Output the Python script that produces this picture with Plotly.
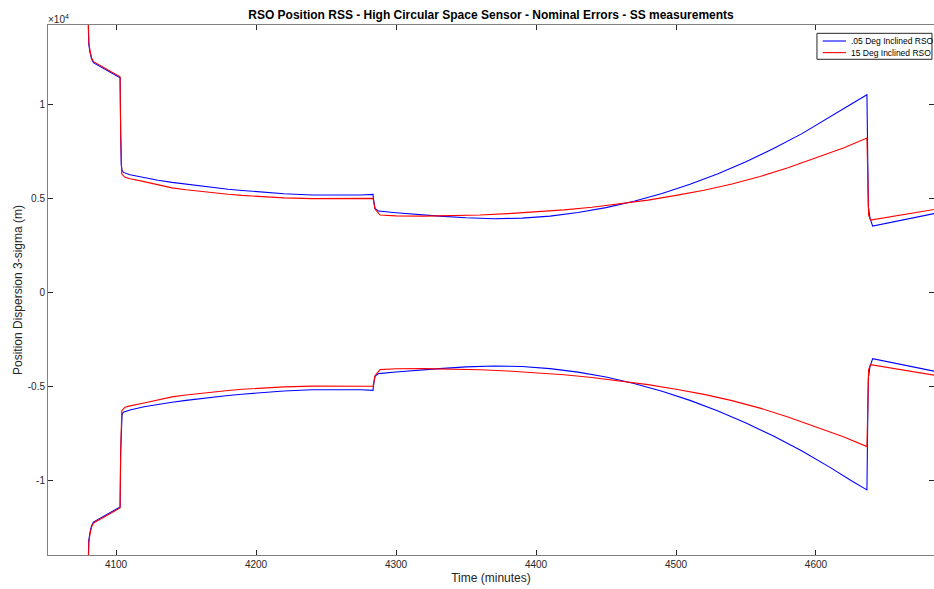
import plotly.graph_objects as go

# ---------------- data ----------------
t_blue = [4079.6, 4079.9, 4080.3, 4080.5, 4081.4, 4082.5, 4083.8, 4102.9, 4103.3, 4103.7,
          4104.3, 4105.2, 4110, 4120, 4130, 4140, 4150, 4160, 4170, 4180, 4190, 4200,
          4220, 4240, 4260, 4275, 4283.6,
          4283.8, 4285.0, 4287.4, 4300, 4315, 4331, 4350, 4370, 4390, 4410, 4430, 4450,
          4470, 4490, 4510, 4530, 4550, 4570, 4590, 4610, 4625,
          4636.4, 4637.0, 4637.4, 4638.6, 4640.5, 4684.3, 4690]
blue_upper = [16000, 14200, 13650, 13200, 12750, 12400, 12200, 11400, 8500, 6750,
              6500, 6370, 6250, 6080, 5950, 5840, 5740, 5640, 5560, 5480, 5410, 5350,
              5240, 5170, 5150, 5170, 5204,
              5000, 4460, 4317, 4230, 4130, 4050, 3960, 3910, 3940, 4050, 4237, 4500,
              4837, 5249, 5737, 6299, 6936, 7648, 8430, 9297, 9993,
              10493, 6500, 4545, 3930, 3521, 4184, 4270]
blue_lower = [-16000, -14200, -13650, -13200, -12750, -12400, -12200, -11400, -8500, -6750,
              -6500, -6370, -6250, -6080, -5950, -5840, -5740, -5640, -5560, -5480, -5410, -5350,
              -5240, -5170, -5150, -5170, -5204,
              -5000, -4460, -4317, -4230, -4130, -4050, -3960, -3910, -3940, -4050, -4237, -4500,
              -4837, -5249, -5737, -6299, -6936, -7648, -8430, -9297, -9993,
              -10493, -6500, -4545, -3930, -3521, -4184, -4270]

t_red = [4079.7, 4080.0, 4080.4, 4080.6, 4081.5, 4082.6, 4083.9, 4102.9, 4103.3, 4103.7,
         4104.1, 4106.4, 4110, 4120, 4130, 4140, 4150, 4160, 4170, 4180, 4190, 4200,
         4220, 4240, 4260, 4275, 4283.6,
         4283.8, 4285.0, 4288.6, 4300, 4320, 4340, 4360, 4380, 4400, 4420, 4440, 4460,
         4480, 4500, 4520, 4540, 4560, 4580, 4600, 4620,
         4636.4, 4637.0, 4637.6, 4639.0, 4684.3, 4690]
red_upper = [16000, 14200, 13700, 13250, 12800, 12450, 12250, 11450, 8500, 6700,
             6282, 6107, 6030, 5880, 5700, 5550, 5450, 5360, 5280, 5210, 5150, 5100,
             5020, 4980, 4970, 4980, 4991,
             4900, 4423, 4105, 4060, 4050, 4070, 4110, 4180, 4270, 4380, 4520, 4690,
             4900, 5150, 5420, 5750, 6150, 6620, 7150, 7680,
             8193, 5800, 4105, 3839, 4397, 4470]
red_lower = [-16000, -14200, -13700, -13250, -12800, -12450, -12250, -11450, -8500, -6700,
             -6282, -6107, -6030, -5880, -5700, -5550, -5450, -5360, -5280, -5210, -5150, -5100,
             -5020, -4980, -4970, -4980, -4991,
             -4900, -4423, -4105, -4060, -4050, -4070, -4110, -4180, -4270, -4380, -4520, -4690,
             -4900, -5150, -5420, -5750, -6150, -6620, -7150, -7680,
             -8193, -5800, -4105, -3839, -4397, -4470]

series_names = [".05 Deg Inclined RSO", "15 Deg Inclined RSO"]
series_colors = ["#0000ff", "#ff0000"]
x_ticks = [4100, 4200, 4300, 4400, 4500, 4600]
y_ticks = [-10000, -5000, 0, 5000, 10000]
y_tick_labels = ["-1", "-0.5", "0", "0.5", "1"]

FONT = "Liberation Sans, Arial, Helvetica, sans-serif"
TXT = "#262626"

fig = go.Figure()
fig.add_trace(go.Scatter(x=t_blue, y=blue_upper, mode="lines", name=series_names[0],
                         line=dict(color=series_colors[0], width=1.1), showlegend=False))
fig.add_trace(go.Scatter(x=t_red, y=red_upper, mode="lines", name=series_names[1],
                         line=dict(color=series_colors[1], width=1.1), showlegend=False))
fig.add_trace(go.Scatter(x=t_blue, y=blue_lower, mode="lines", name=series_names[0],
                         line=dict(color=series_colors[0], width=1.1), showlegend=False))
fig.add_trace(go.Scatter(x=t_red, y=red_lower, mode="lines", name=series_names[1],
                         line=dict(color=series_colors[1], width=1.1), showlegend=False))

W, H = 934, 589
fig.update_layout(
    width=W, height=H,
    paper_bgcolor="white", plot_bgcolor="white",
    margin=dict(l=48, r=0, t=25, b=34),
    font=dict(family=FONT, size=10, color=TXT),
    title=dict(text="<b>RSO Position RSS - High Circular Space Sensor - Nominal Errors - SS measurements</b>",
               x=0.5, xref="paper", xanchor="center", y=1 - 15 / H, yref="container", yanchor="middle",
               font=dict(size=12, color="#000000")),
    showlegend=False,
    xaxis=dict(range=[4051.4, 4684.3], tickvals=x_ticks,
               ticks="inside", ticklen=5, tickcolor=TXT, tickwidth=1,
               showline=True, linecolor="#808080", linewidth=1, mirror="ticks",
               showgrid=False, zeroline=False,
               title=dict(text="Time (minutes)", font=dict(size=12, color=TXT), standoff=4),
               tickfont=dict(size=10, color=TXT)),
    yaxis=dict(range=[-13950, 14200], tickvals=y_ticks, ticktext=y_tick_labels,
               ticks="inside", ticklen=5, tickcolor=TXT, tickwidth=1,
               showline=True, linecolor="#808080", linewidth=1, mirror="ticks",
               showgrid=False, zeroline=False,
               title=dict(text="Position Dispersion 3-sigma (m)", font=dict(size=12, color=TXT), standoff=2),
               tickfont=dict(size=10, color=TXT)),
)

fig.add_annotation(text="×10<sup>4</sup>", xref="paper", yref="paper", x=0, y=1,
                   xanchor="left", yanchor="bottom", showarrow=False,
                   font=dict(size=10, color=TXT), xshift=-2, yshift=-2)

# legend box (MATLAB style)
fig.add_shape(type="rect", xref="paper", yref="paper", x0=0.8679, x1=0.9977, y0=0.9353, y1=0.9843,
              line=dict(color=TXT, width=1), fillcolor="white", layer="above")
leg_y = [0.9698, 0.9479]
for name, col, yy in zip(series_names, series_colors, leg_y):
    fig.add_shape(type="line", xref="paper", yref="paper", x0=0.8744, x1=0.9007, y0=yy, y1=yy,
                  line=dict(color=col, width=1.1), layer="above")
    fig.add_annotation(text=name, xref="paper", yref="paper", x=0.9041, y=yy,
                       xanchor="left", yanchor="middle", showarrow=False,
                       font=dict(size=8.5, color="#000000"))

# remove the default page margin so the figure fills the window exactly
fig.write_html("out.html", config={"displayModeBar": False},
               post_script="document.body.style.margin='0';document.body.style.overflow='hidden';")
